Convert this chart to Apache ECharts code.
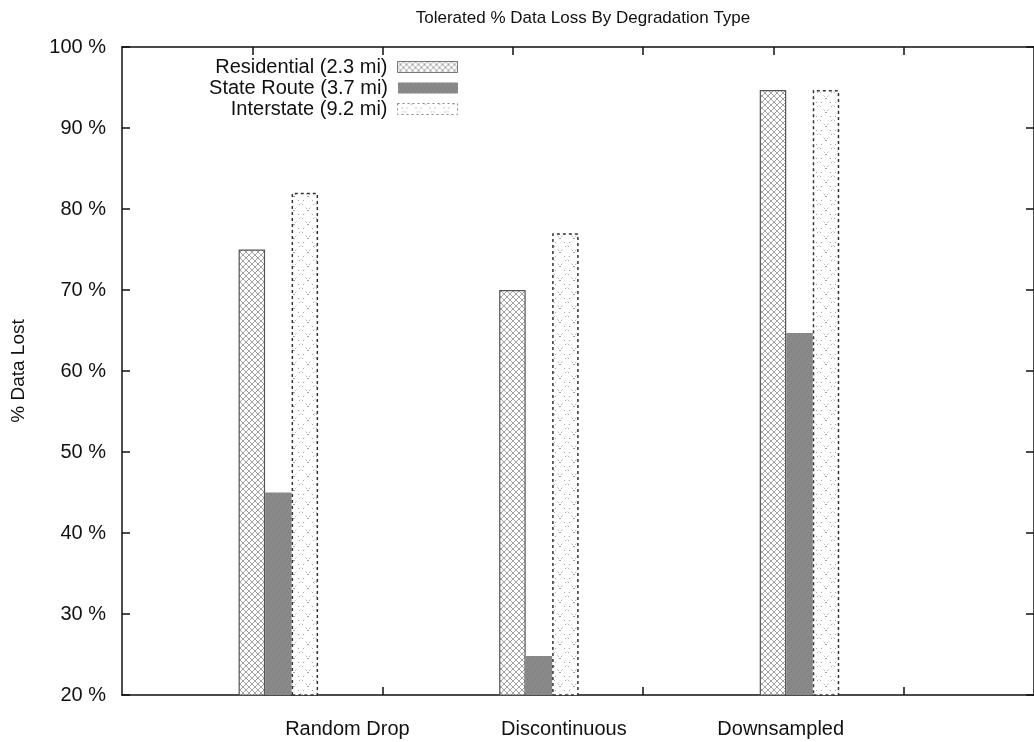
<!DOCTYPE html>
<html>
<head>
<meta charset="utf-8">
<script src="https://cdn.jsdelivr.net/npm/echarts@6/dist/echarts.min.js"></script>
<style>html,body{margin:0;padding:0;background:#fff}#c{width:1034px;height:742px}</style>
</head>
<body>
<div id="c"></div>
<script>
const categories = ['Random Drop', 'Discontinuous', 'Downsampled'];
const seriesNames = ['Residential (2.3 mi)', 'State Route (3.7 mi)', 'Interstate (9.2 mi)'];
const residential = [75, 70, 94.7];
const stateRoute = [45, 24.8, 64.7];
const interstate = [82, 77, 94.7];
const yTicks = [20, 30, 40, 50, 60, 70, 80, 90, 100];

function makeCanvas(w, h, draw) {
  const c = document.createElement('canvas');
  c.width = w; c.height = h;
  draw(c.getContext('2d'));
  return c;
}
const crossHatch = makeCanvas(6, 6, g => {
  g.fillStyle = '#fff'; g.fillRect(0, 0, 6, 6);
  g.strokeStyle = '#999'; g.lineWidth = 0.9;
  g.beginPath(); g.moveTo(0, 0); g.lineTo(6, 6); g.moveTo(6, 0); g.lineTo(0, 6); g.stroke();
});
const greyNoise = makeCanvas(8, 8, g => {
  g.fillStyle = '#8a8a8a'; g.fillRect(0, 0, 8, 8);
  const dots = [[1,1],[4,2],[6,5],[2,6],[5,0],[0,4],[3,4],[7,7]];
  g.fillStyle = '#7a7a7a';
  dots.forEach(d => g.fillRect(d[0], d[1], 1, 1));
});
const sparseDots = makeCanvas(14, 14, g => {
  g.fillStyle = '#fff'; g.fillRect(0, 0, 14, 14);
  g.strokeStyle = '#a0a0a0'; g.lineWidth = 1;
  g.setLineDash([1.5, 4]);
  g.beginPath(); g.moveTo(0, 0); g.lineTo(14, 14); g.moveTo(14, 0); g.lineTo(0, 14); g.stroke();
});

const FONT = 'Liberation Sans, Arial, Helvetica, sans-serif';
const xMin = -0.6, xMax = 2.9;
const AX = { color: '#111', width: 1.5 };

function barSeries(name, vals, style) {
  return {
    name: name, type: 'bar', barWidth: 26.5, barGap: '0%',
    data: vals.map((v, i) => [i, v]),
    itemStyle: style, emphasis: { disabled: true }, silent: true, animation: false
  };
}

const labelAt = [0.265, 1.096, 1.928];
const legendIconStyles = [
  { borderColor: '#777', borderWidth: 1 },
  { borderWidth: 0 },
  { borderColor: '#888', borderWidth: 1, borderType: [2, 3] }
];

const option = {
  animation: false,
  backgroundColor: '#fff',
  title: {
    text: 'Tolerated % Data Loss By Degradation Type',
    left: 578, top: 5, textAlign: 'center',
    textStyle: { fontFamily: FONT, fontSize: 17, fontWeight: 'normal', color: '#111' }
  },
  legend: seriesNames.map((n, i) => ({
    data: [{ name: n, itemStyle: legendIconStyles[i] }], orient: 'vertical', align: 'right', icon: 'rect',
    right: 576, top: 57 + i * 21, padding: 0,
    itemWidth: 60, itemHeight: 11, selectedMode: false,
    textStyle: { fontFamily: FONT, fontSize: 20, color: '#111', padding: [0, 5, 0, 0] }
  })),
  grid: { left: 122, right: -6, top: 47, bottom: 47 },
  xAxis: [
    {
      type: 'value', min: xMin, max: xMax, position: 'bottom',
      axisLine: { show: true, onZero: false, lineStyle: AX },
      axisTick: { show: true, inside: true, length: 8, customValues: [0.4, 1.4, 2.4], lineStyle: AX },
      axisLabel: {
        show: true, customValues: labelAt, margin: 24,
        fontFamily: FONT, fontSize: 20, color: '#111',
        formatter: v => {
          let best = 0;
          labelAt.forEach((p, i) => { if (Math.abs(p - v) < Math.abs(labelAt[best] - v)) best = i; });
          return categories[best];
        }
      },
      splitLine: { show: false }
    },
    {
      type: 'value', min: xMin, max: xMax, position: 'top',
      axisLine: { show: true, onZero: false, lineStyle: AX },
      axisTick: { show: true, inside: true, length: 8, customValues: [-0.1, 0.4, 0.9, 1.4, 1.9, 2.4], lineStyle: AX },
      axisLabel: { show: false },
      splitLine: { show: false }
    }
  ],
  yAxis: [
    {
      type: 'value', min: yTicks[0], max: yTicks[yTicks.length - 1], interval: 10, position: 'left',
      name: '% Data Lost', nameLocation: 'middle', nameGap: 94, nameRotate: 90,
      nameTextStyle: { fontFamily: FONT, fontSize: 19, color: '#111' },
      axisLine: { show: true, onZero: false, lineStyle: AX },
      axisTick: { show: true, inside: true, length: 8, lineStyle: AX },
      axisLabel: { formatter: '{value} %', margin: 16, fontFamily: FONT, fontSize: 20, color: '#111' },
      splitLine: { show: false }
    },
    {
      type: 'value', min: yTicks[0], max: yTicks[yTicks.length - 1], interval: 10, position: 'right',
      axisLine: { show: true, onZero: false, lineStyle: AX },
      axisTick: { show: true, inside: true, length: 8, lineStyle: AX },
      axisLabel: { show: false },
      splitLine: { show: false }
    }
  ],
  series: [
    barSeries(seriesNames[0], residential, { color: { image: crossHatch, repeat: 'repeat' }, borderColor: '#555', borderWidth: 1.2 }),
    barSeries(seriesNames[1], stateRoute, { color: { image: greyNoise, repeat: 'repeat' }, borderColor: '#8a8a8a', borderWidth: 0 }),
    barSeries(seriesNames[2], interstate, { color: { image: sparseDots, repeat: 'repeat' }, borderColor: '#333', borderWidth: 1.5, borderType: [3, 3] })
  ]
};

const chart = echarts.init(document.getElementById('c'), null, { renderer: 'canvas' });
chart.setOption(option);
</script>
</body>
</html>
